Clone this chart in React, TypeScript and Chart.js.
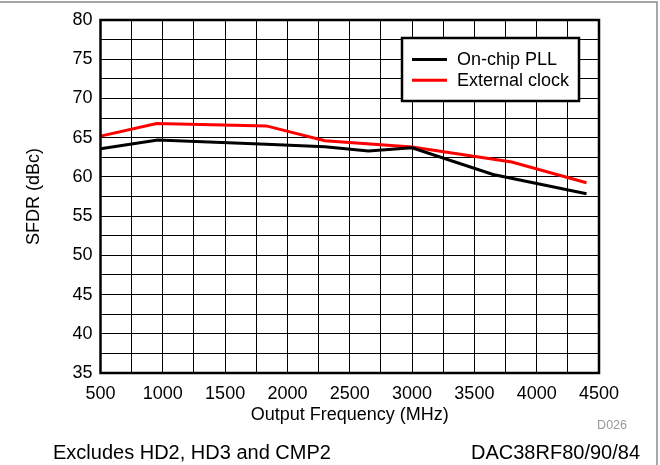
import React, { useEffect, useRef } from "react";
import { Chart, registerables } from "chart.js";

Chart.register(...registerables);

const freqPll = [500, 960, 1830, 2300, 2650, 3000, 3650, 4400];
const sfdrPll = [63.6, 64.7, 64.15, 63.85, 63.3, 63.7, 60.3, 57.85];
const freqExt = [500, 950, 1830, 2300, 3000, 3800, 4400];
const sfdrExt = [65.2, 66.8, 66.5, 64.6, 63.8, 61.9, 59.25];
const seriesLabels = ["On-chip PLL", "External clock"];
const seriesColors = ["#000000", "#ff0000"];
const xTitle = "Output Frequency (MHz)";
const yTitle = "SFDR (dBc)";
const footLeft = "Excludes HD2, HD3 and CMP2";
const footRight = "DAC38RF80/90/84";
const figId = "D026";

const FONT = "'Liberation Sans', Arial, Helvetica, sans-serif";

const decorPlugin = {
  id: "decor",
  afterDraw(chart: any) {
    const ctx = chart.ctx;
    const a = chart.chartArea;
    ctx.save();
    // plot border
    ctx.strokeStyle = "#000";
    ctx.lineWidth = 2.5;
    ctx.strokeRect(a.left, a.top, a.right - a.left, a.bottom - a.top);
    // outer frame
    ctx.strokeStyle = "#8a8a8a";
    ctx.lineWidth = 1.5;
    ctx.beginPath();
    ctx.moveTo(0, 2);
    ctx.lineTo(657, 2);
    ctx.lineTo(657, 470);
    ctx.stroke();
    // legend
    const lx = 402, ly = 38, lw = 177, lh = 63;
    ctx.fillStyle = "#fff";
    ctx.fillRect(lx, ly, lw, lh);
    ctx.strokeStyle = "#000";
    ctx.lineWidth = 2.5;
    ctx.strokeRect(lx, ly, lw, lh);
    ctx.font = `18px ${FONT}`;
    ctx.textBaseline = "middle";
    ctx.textAlign = "left";
    chart.data.datasets.forEach((ds: any, i: number) => {
      const yy = 59.5 + i * 20.7;
      ctx.strokeStyle = ds.borderColor;
      ctx.lineWidth = 3;
      ctx.beginPath();
      ctx.moveTo(412, yy);
      ctx.lineTo(447, yy);
      ctx.stroke();
      ctx.fillStyle = "#000";
      ctx.fillText(ds.label, 457, yy + 1);
    });
    // titles
    ctx.fillStyle = "#000";
    ctx.textBaseline = "alphabetic";
    ctx.textAlign = "center";
    ctx.font = `18px ${FONT}`;
    ctx.fillText(xTitle, (a.left + a.right) / 2, 419.5);
    ctx.save();
    ctx.translate(39, (a.top + a.bottom) / 2);
    ctx.rotate(-Math.PI / 2);
    ctx.fillText(yTitle, 0, 0);
    ctx.restore();
    // footer
    ctx.font = `20px ${FONT}`;
    ctx.textAlign = "left";
    ctx.fillText(footLeft, 53, 459);
    ctx.textAlign = "right";
    ctx.fillText(footRight, 640, 459);
    ctx.font = `12.5px ${FONT}`;
    ctx.fillStyle = "#999";
    ctx.fillText(figId, 627, 429);
    ctx.restore();
  },
};

export default function App() {
  const ref = useRef<HTMLCanvasElement>(null);
  useEffect(() => {
    document.body.style.margin = "0";
    const toXY = (xs: number[], ys: number[]) => xs.map((x, i) => ({ x, y: ys[i] }));
    const chart = new Chart(ref.current as HTMLCanvasElement, {
      type: "line",
      data: {
        datasets: [
          {
            label: seriesLabels[0],
            data: toXY(freqPll, sfdrPll),
            borderColor: seriesColors[0],
            borderWidth: 3,
            pointRadius: 0,
            tension: 0,
          },
          {
            label: seriesLabels[1],
            data: toXY(freqExt, sfdrExt),
            borderColor: seriesColors[1],
            borderWidth: 3,
            pointRadius: 0,
            tension: 0,
          },
        ],
      },
      options: {
        animation: false,
        responsive: false,
        devicePixelRatio: 1,
        layout: { padding: { top: 20, left: 0, right: 61, bottom: 0 } },
        plugins: { legend: { display: false }, tooltip: { enabled: false } },
        scales: {
          x: {
            type: "linear",
            min: 500,
            max: 4500,
            afterFit: (s: any) => {
              s.height = 92;
            },
            grid: { color: "#000", lineWidth: 1, drawTicks: false },
            border: { display: false },
            ticks: {
              stepSize: 250,
              autoSkip: false,
              maxRotation: 0,
              padding: 10,
              color: "#000",
              font: { family: FONT, size: 18 },
              callback: (v: any) => (Number(v) % 500 === 0 ? String(v) : ""),
            },
          },
          y: {
            type: "linear",
            min: 35,
            max: 80,
            afterFit: (s: any) => {
              s.width = 100.5;
            },
            grid: { color: "#000", lineWidth: 1, drawTicks: false },
            border: { display: false },
            ticks: {
              stepSize: 2.5,
              autoSkip: false,
              padding: 8,
              color: "#000",
              font: { family: FONT, size: 18 },
              callback: (v: any) => (Number(v) % 5 === 0 ? String(v) : ""),
            },
          },
        },
      },
      plugins: [decorPlugin],
    });
    return () => chart.destroy();
  }, []);
  return (
    <div style={{ width: 660, height: 465, background: "#fff" }}>
      <canvas ref={ref} width={660} height={465} style={{ display: "block" }} />
    </div>
  );
}
